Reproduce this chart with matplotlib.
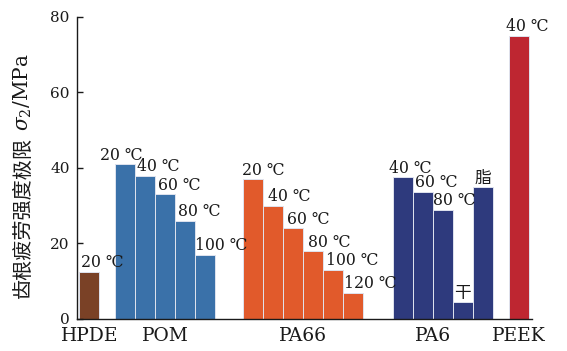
import matplotlib
matplotlib.use("Agg")
import matplotlib.pyplot as plt

# Tooth-root fatigue limit of polymer gears
materials = ["HPDE", "POM", "PA66", "PA6", "PEEK"]

hpde_vals = [12.5]
hpde_labels = ["20 ℃"]

pom_vals = [41.0, 38.0, 33.0, 26.0, 17.0]
pom_labels = ["20 ℃", "40 ℃", "60 ℃", "80 ℃", "100 ℃"]

pa66_vals = [37.0, 30.0, 24.0, 18.0, 13.0, 7.0]
pa66_labels = ["20 ℃", "40 ℃", "60 ℃", "80 ℃", "100 ℃", "120 ℃"]

pa6_vals = [37.5, 33.7, 29.0, 4.5, 35.0]
pa6_labels = ["40 ℃", "60 ℃", "80 ℃", "干", "脂"]

peek_vals = [75.0]
peek_labels = ["40 ℃"]

y_ticks = [0, 20, 40, 60, 80]

ylabel_text = "齿根疲劳强度极限"
ylabel_unit = "$\\sigma_2$/MPa"

groups = [
    (hpde_vals, hpde_labels, "#7a4126"),
    (pom_vals, pom_labels, "#3a71a9"),
    (pa66_vals, pa66_labels, "#e15a2b"),
    (pa6_vals, pa6_labels, "#2e3a7d"),
    (peek_vals, peek_labels, "#be2631"),
]

# layout: left edge of each group (in bar widths) and label nudges (points)
group_starts = [0.14, 1.93, 8.34, 15.81, 21.6]
label_dx = [
    [1],
    [-11, 1, 2, 2, 0],
    [-1, 3, 2.5, 3, 2, 0.5],
    [-3, 1.5, 0, 1, 1.5],
    [-2],
]
tick_span = [1, 5, 6, 4, 1]  # bars under each category label

serif = ["DejaVu Serif", "Noto Sans CJK SC"]
cjk = ["Noto Sans CJK SC", "DejaVu Serif"]
ink = "#1a1a1a"

plt.rcParams["mathtext.fontset"] = "dejavuserif"

fig = plt.figure(figsize=(5.67, 3.51), dpi=100)
ax = fig.add_axes([0.135, 0.0912, 0.803, 0.8604])

tick_pos = []
for (vals, labels, color), start, dxs, span in zip(groups, group_starts, label_dx, tick_span):
    xs = [start + i for i in range(len(vals))]
    ax.bar(xs, vals, width=1.0, align="edge", color=color,
           edgecolor="#dfe3ee", linewidth=0.7)
    for x, v, lab, dx in zip(xs, vals, labels, dxs):
        if lab in ("干", "脂"):
            ax.annotate(lab, (x, v), xytext=(dx, 3.0), textcoords="offset points",
                        ha="left", va="baseline", fontsize=12, family=cjk, color=ink)
        else:
            ax.annotate(lab, (x, v), xytext=(dx, 3.2), textcoords="offset points",
                        ha="left", va="baseline", fontsize=11.3, family=serif,
                        color=ink)
    tick_pos.append(start + span / 2)

ax.set_xlim(0, 22.76)
ax.set_ylim(0, 80)
ax.set_yticks(y_ticks)
ax.set_xticks(tick_pos)
ax.set_xticklabels(materials, family=serif, fontsize=13.5)
for t in ax.get_yticklabels():
    t.set_family(serif)
    t.set_fontsize(11)
ax.tick_params(axis="y", direction="in", length=4, width=1, pad=5, colors=ink)
ax.tick_params(axis="x", length=0, pad=6, colors=ink)

for s in ("top", "right"):
    ax.spines[s].set_visible(False)
for s in ("left", "bottom"):
    ax.spines[s].set_linewidth(1.0)
    ax.spines[s].set_color(ink)

# y-axis title: CJK words followed by the symbol and unit, stacked upward
title_cn = fig.text(0.041, 0.152, ylabel_text, rotation=90, ha="center",
                    va="bottom", family=cjk, fontsize=14.5, color=ink)
ax.annotate(ylabel_unit, xy=(0.5, 1.0), xycoords=title_cn, xytext=(0, 4),
            textcoords="offset points", rotation=90, ha="center", va="bottom",
            fontsize=14.5, family=serif, color=ink)

fig.savefig("out.png", dpi=100)
